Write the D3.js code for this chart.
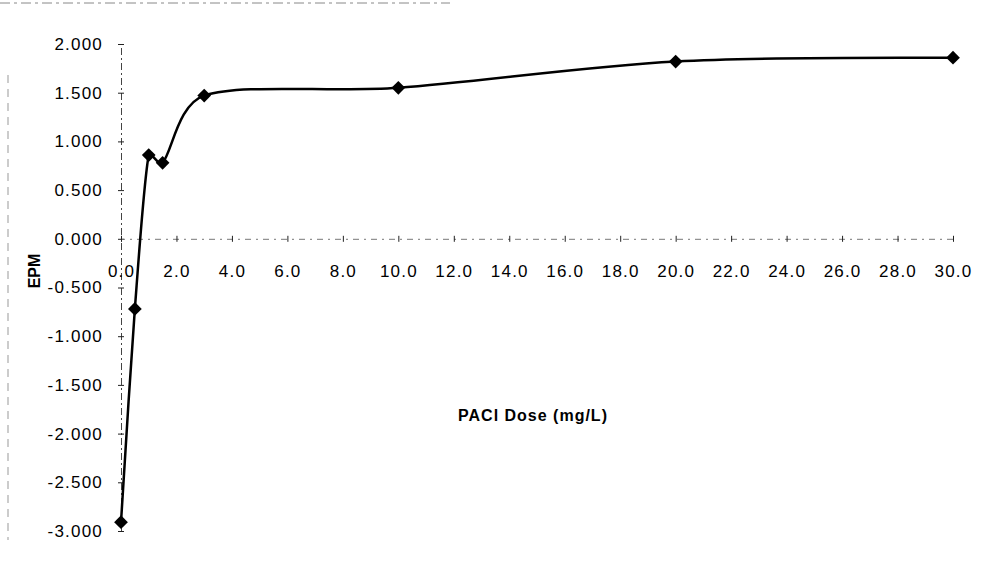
<!DOCTYPE html>
<html>
<head>
<meta charset="utf-8">
<script src="https://cdn.jsdelivr.net/npm/d3@7"></script>
<style>
    body { margin: 0; background: #fff; }
    svg { display: block; font-family: "Liberation Sans", Arial, sans-serif; }
</style>
</head>
<body>
<svg id="chart" width="992" height="565"></svg>
<script>
// data
var doses = [0, 0.5, 1, 1.5, 3, 10, 20, 30];
var epmValues = [-2.91, -0.72, 0.86, 0.78, 1.47, 1.55, 1.82, 1.86];
var xTicks = [0, 2, 4, 6, 8, 10, 12, 14, 16, 18, 20, 22, 24, 26, 28, 30];
var yTicks = [-3, -2.5, -2, -1.5, -1, -0.5, 0, 0.5, 1, 1.5, 2];

var _svg = d3.select("#chart");
var _width = 992, _height = 565;

_svg.append("rect")
    .attr("width", _width)
    .attr("height", _height)
    .attr("fill", "#fff");

var x = d3.scaleLinear().domain([0, 30]).range([121, 953]);
var y = d3.scaleLinear().domain([-3, 2]).range([531, 44]);

// plain hyphen instead of d3's unicode minus
var fmtY = function(d) { return d3.format(".3f")(d).replace("\u2212", "-"); };

// spreadsheet-style smoothing: catmull-rom tangents, arms clamped to the segment
function SmoothCurve(context) { this._context = context; }
SmoothCurve.prototype = {
    areaStart: function() {},
    areaEnd: function() {},
    lineStart: function() { this._pts = []; },
    point: function(px, py) { this._pts.push([+px, +py]); },
    lineEnd: function() {
        var p = this._pts, ctx = this._context, n = p.length;
        if (!n) return;
        ctx.moveTo(p[0][0], p[0][1]);
        var tan = p.map(function(d, i) {
            var a = p[Math.max(i - 1, 0)], b = p[Math.min(i + 1, n - 1)];
            return [(b[0] - a[0]) / 6, (b[1] - a[1]) / 6];
        });
        var arm = function(t, seg) {
            var len = Math.sqrt(t[0] * t[0] + t[1] * t[1]), max = seg * 0.35;
            var k = len > max ? max / len : 1;
            return [t[0] * k, t[1] * k];
        };
        for (var i = 0; i < n - 1; i++) {
            var dx = p[i + 1][0] - p[i][0], dy = p[i + 1][1] - p[i][1];
            var seg = Math.sqrt(dx * dx + dy * dy);
            var a1 = arm(tan[i], seg), a2 = arm(tan[i + 1], seg);
            ctx.bezierCurveTo(p[i][0] + a1[0], p[i][1] + a1[1],
                p[i + 1][0] - a2[0], p[i + 1][1] - a2[1],
                p[i + 1][0], p[i + 1][1]);
        }
    }
};
var curveSmooth = function(context) { return new SmoothCurve(context); };

// faint frame of the chart area (only top and left survive in the scan)
_svg.append("line")
    .attr("x1", 0).attr("x2", 450).attr("y1", 3).attr("y2", 3)
    .attr("stroke", "#888").attr("stroke-width", 1)
    .attr("stroke-dasharray", "10,4,3,4");
_svg.append("line")
    .attr("x1", 8).attr("x2", 8).attr("y1", 75).attr("y2", 540)
    .attr("stroke", "#999").attr("stroke-width", 1)
    .attr("stroke-dasharray", "8,6");

// y axis
var yAxis = d3.axisLeft(y)
    .tickValues(yTicks)
    .tickFormat(fmtY)
    .tickSize(3)
    .tickPadding(15);

var gy = _svg.append("g")
    .attr("transform", "translate(" + x(0) + ",0)")
    .call(yAxis);
gy.select(".domain")
    .attr("stroke", "#444")
    .attr("stroke-dasharray", "7,3,2,3");
gy.selectAll(".tick line")
    .attr("x1", -3).attr("x2", 3)
    .attr("stroke", "#222");
gy.selectAll(".tick text")
    .attr("font-size", 17)
    .attr("letter-spacing", "1.2px")
    .attr("fill", "#000");

// x axis sits on y = 0
var xAxis = d3.axisBottom(x)
    .tickValues(xTicks)
    .tickFormat(d3.format(".1f"))
    .tickSize(3);

var gx = _svg.append("g")
    .attr("transform", "translate(0," + y(0) + ")")
    .call(xAxis);
gx.select(".domain")
    .attr("stroke", "#777")
    .attr("stroke-dasharray", "6,5,2,5");
gx.selectAll(".tick line")
    .attr("y1", -3).attr("y2", 3)
    .attr("stroke", "#222");
gx.selectAll(".tick text")
    .attr("y", 26)
    .attr("font-size", 17)
    .attr("letter-spacing", "1.2px")
    .attr("fill", "#000");

// axis titles
_svg.append("text")
    .attr("transform", "translate(40,271) rotate(-90)")
    .attr("text-anchor", "middle")
    .attr("font-size", 16)
    .attr("font-weight", "bold")
    .text("EPM");

_svg.append("text")
    .attr("x", 533)
    .attr("y", 421)
    .attr("text-anchor", "middle")
    .attr("font-size", 16)
    .attr("font-weight", "bold")
    .attr("letter-spacing", "1px")
    .text("PACl Dose (mg/L)");

// smoothed series line
var points = doses.map(function(d, i) { return [d, epmValues[i]]; });

var line = d3.line()
    .x(function(d) { return x(d[0]); })
    .y(function(d) { return y(d[1]); })
    .curve(curveSmooth);

_svg.append("path")
    .datum(points)
    .attr("d", line)
    .attr("fill", "none")
    .attr("stroke", "#000")
    .attr("stroke-width", 2.5);

// diamond markers
var diamond = d3.symbol().type(d3.symbolDiamond2).size(120);

_svg.selectAll(".marker")
    .data(points)
    .enter().append("path")
    .attr("class", "marker")
    .attr("transform", function(d) { return "translate(" + x(d[0]) + "," + y(d[1]) + ")"; })
    .attr("d", diamond)
    .attr("fill", "#000");
</script>
</body>
</html>
